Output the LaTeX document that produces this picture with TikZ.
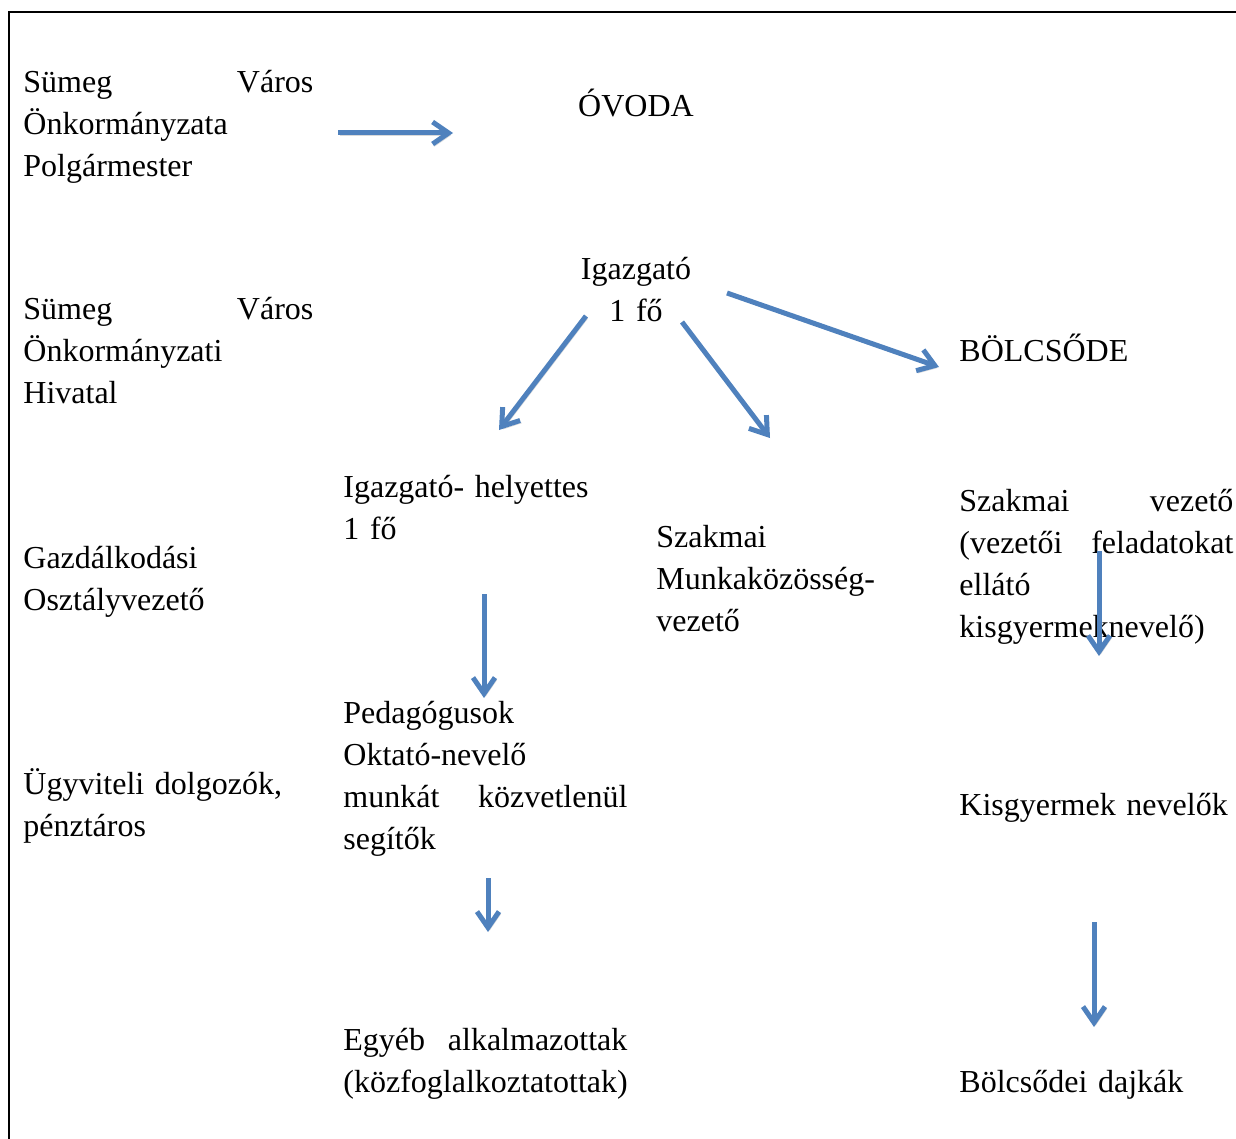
\documentclass[tikz,border=0pt]{standalone}
\usepackage{fontspec}
\setmainfont{Liberation Serif}
\usetikzlibrary{arrows.meta, positioning}
\definecolor{arrowblue}{RGB}{79,129,189}
\tikzset{
  orgtext/.style={anchor=base west, inner sep=0pt, align=left, text width=#1,
    font=\fontsize{16}{21}\selectfont},
  orgtext/.default=150pt,
  orgcenter/.style={anchor=base, inner sep=0pt, align=center, text width=80pt,
    font=\fontsize{16}{21}\selectfont},
  orgarrow/.style={-{Straight Barb[length=8pt,width=11pt]}, line width=2.5pt, arrowblue,
    preaction={draw=black!15, transform canvas={shift={(0.8pt,-1.2pt)}}}},
}
\begin{document}
\begin{tikzpicture}[x=0.5pt, y=-0.5pt]
  \useasboundingbox (0,0) rectangle (1236,1139);
  % frame
  \draw[line width=1pt] (9,1139) -- (9,12) -- (1236,12);

  % left column
  \node[orgtext=145pt] (polg) at (23,93) {S\"umeg\hfill V\'aros\\\"Onkorm\'anyzata\\Polg\'armester};
  \node[orgtext=145pt] (hiv) at (23,319) {S\"umeg\hfill V\'aros\\\"Onkorm\'anyzati\\Hivatal};
  \node[orgtext] (gazd) at (23,568) {Gazd\'alkod\'asi\\Oszt\'alyvezet\H{o}};
  \node[orgtext] (ugyv) at (23,794) {\"Ugyviteli dolgoz\'ok,\\p\'enzt\'aros};

  % ovoda
  \node[orgcenter] (ovoda) at (636,117) {\'OVODA};
  \node[orgcenter] (igazg) at (636,279) {Igazgat\'o\\1 f\H{o}};
  \node[orgtext] (helyettes) at (343,497) {Igazgat\'o- helyettes\\1 f\H{o}};
  \node[orgtext] (munkak) at (656,547) {Szakmai\\Munkak\"oz\"oss\'eg-\\vezet\H{o}};
  \node[orgtext=142pt] (pedag) at (343,723) {Pedag\'ogusok\\Oktat\'o-nevel\H{o}\\munk\'at\hfill k\"ozvetlen\"ul\\seg\'it\H{o}k};
  \node[orgtext=142pt] (egyeb) at (343,1050) {Egy\'eb\hfill alkalmazottak\\(k\"ozfoglalkoztatottak)};

  % bolcsode
  \node[orgtext] (bolcs) at (959,361) {B\"OLCS\H{O}DE};
  \node[orgtext=137pt] (szvez) at (959,511) {Szakmai\hfill vezet\H{o}\\(vezet\H{o}i\hfill feladatokat\\ell\'at\'o\\kisgyermeknevel\H{o})};
  \node[orgtext=137pt] (kisgy) at (959,815) {Kisgyermek nevel\H{o}k};
  \node[orgtext=137pt] (dajka) at (959,1092) {B\"olcs\H{o}dei dajk\'ak};

  % arrow ends
  \coordinate (a1s) at (338,133); \coordinate (a1e) at (453,133);
  \coordinate (a2s) at (586,316); \coordinate (a2e) at (499,430);
  \coordinate (a3s) at (682,322); \coordinate (a3e) at (770,438);
  \coordinate (a4s) at (727,293); \coordinate (a4e) at (939,367);
  \coordinate (a5s) at (484,594); \coordinate (a5e) at (484,698);
  \coordinate (a6s) at (1099,551); \coordinate (a6e) at (1099,656);
  \coordinate (a7s) at (488,878); \coordinate (a7e) at (488,932);
  \coordinate (a8s) at (1094,922); \coordinate (a8e) at (1094,1027);

  \foreach \i in {1,...,8}
    \draw[orgarrow] (a\i s) -- (a\i e);
\end{tikzpicture}
\end{document}
